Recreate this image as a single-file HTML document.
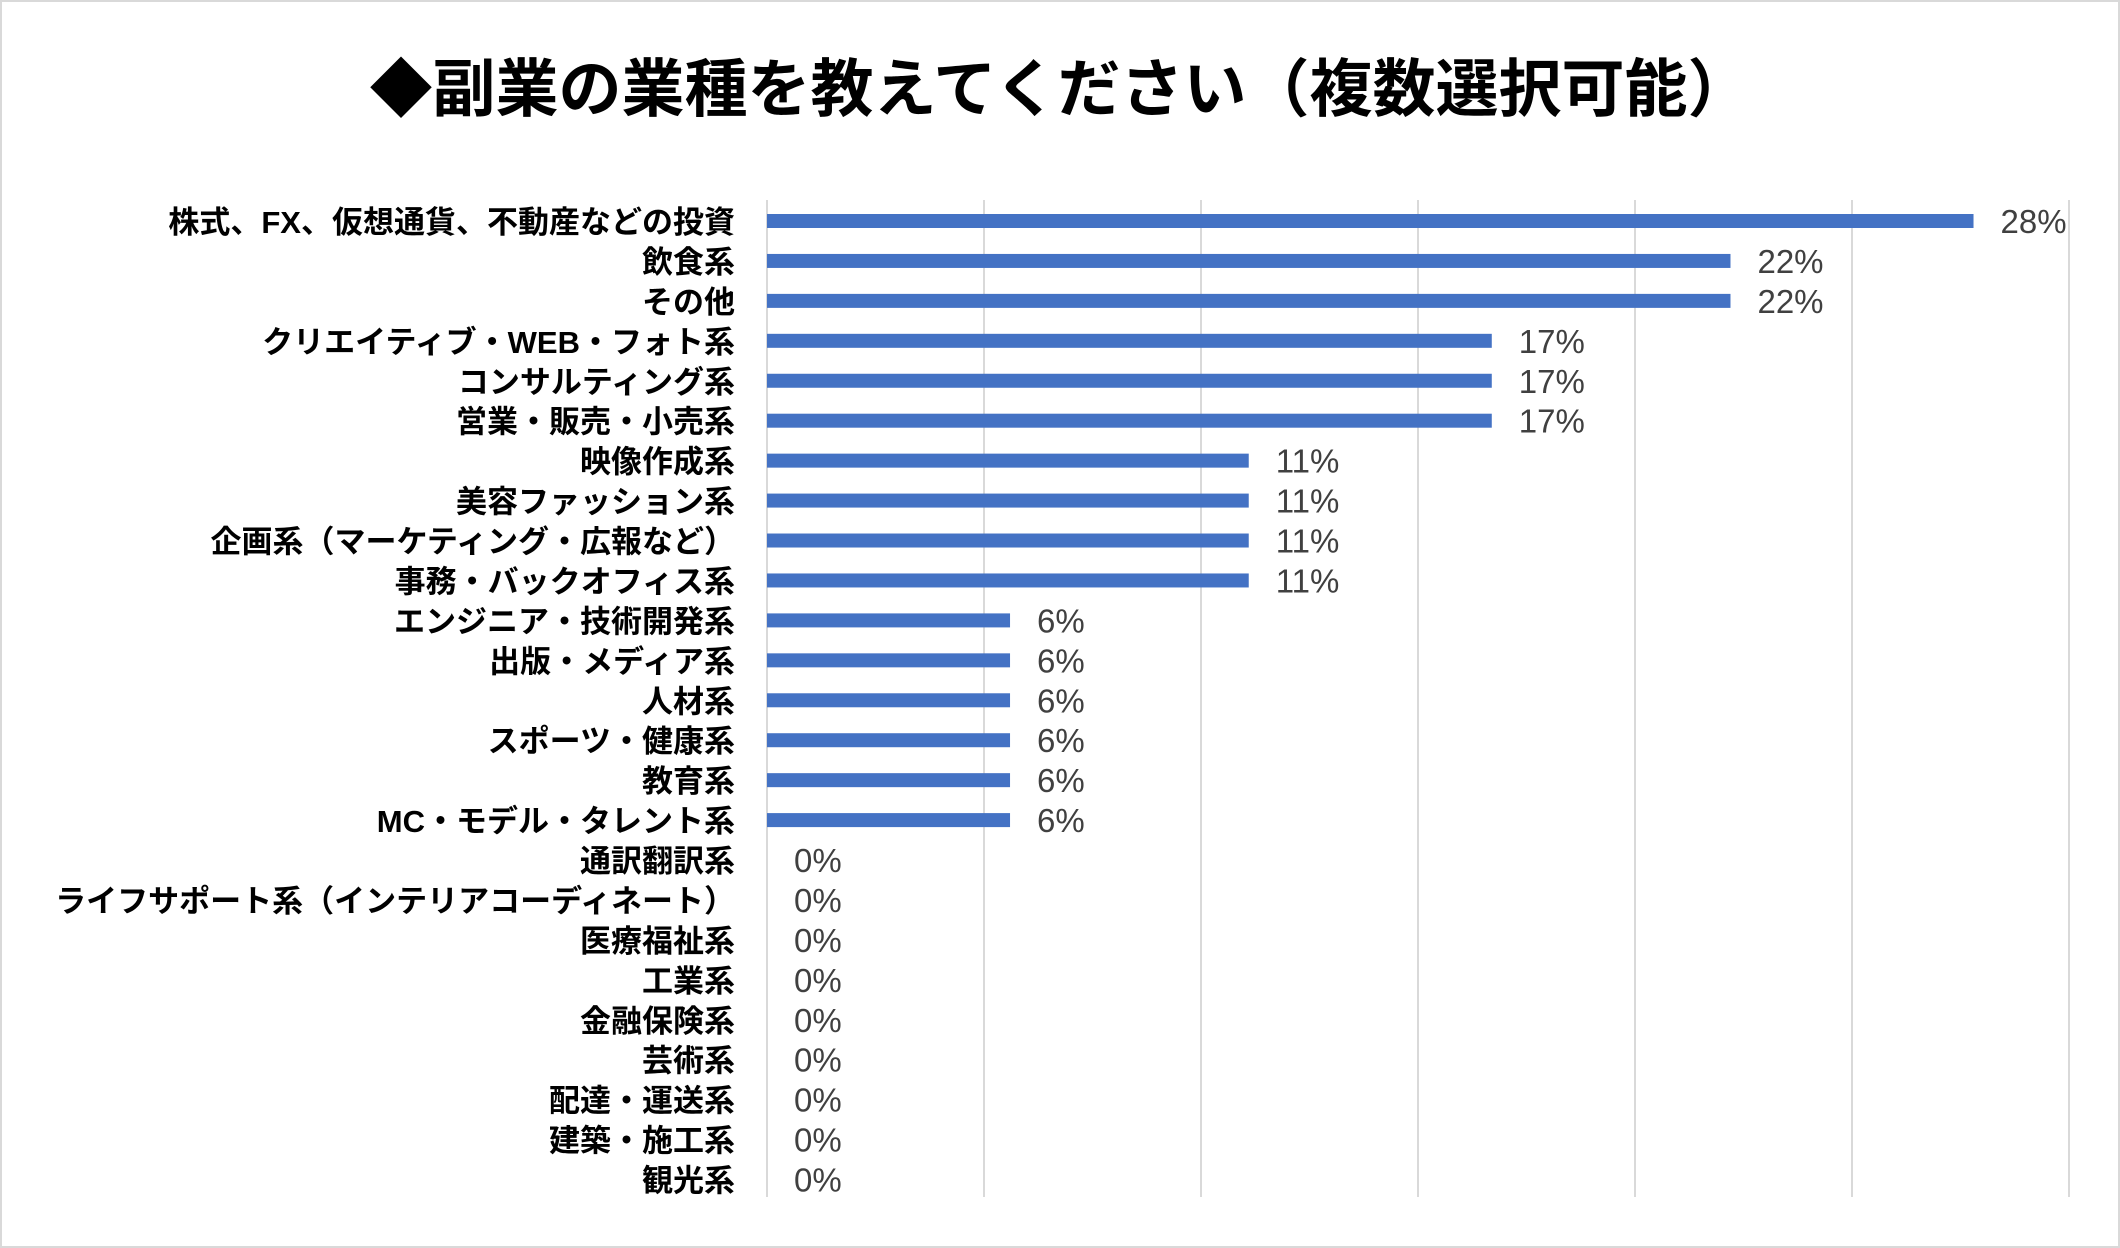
<!DOCTYPE html>
<html><head><meta charset="utf-8">
<style>
html,body{margin:0;padding:0;background:#fff;}
svg{display:block;}
</style></head>
<body>
<svg id="chart" width="2120" height="1248" xmlns="http://www.w3.org/2000/svg">
<rect x="1" y="1" width="2118" height="1246" fill="#fff" stroke="#d9d9d9" stroke-width="2"/>
<text x="1060" y="111" text-anchor="middle" font-family="'Liberation Sans','Noto Sans CJK JP',sans-serif" font-weight="bold" font-size="63" fill="#000">◆副業の業種を教えてください（複数選択可能）</text>
<g id="grid"></g>
<g id="bars"></g>
</svg>
<script>
const categories = ["株式、FX、仮想通貨、不動産などの投資","飲食系","その他","クリエイティブ・WEB・フォト系","コンサルティング系","営業・販売・小売系","映像作成系","美容ファッション系","企画系（マーケティング・広報など）","事務・バックオフィス系","エンジニア・技術開発系","出版・メディア系","人材系","スポーツ・健康系","教育系","MC・モデル・タレント系","通訳翻訳系","ライフサポート系（インテリアコーディネート）","医療福祉系","工業系","金融保険系","芸術系","配達・運送系","建築・施工系","観光系"];
const values = [27.8,22.2,22.2,16.7,16.7,16.7,11.1,11.1,11.1,11.1,5.6,5.6,5.6,5.6,5.6,5.6,0,0,0,0,0,0,0,0,0];
const valueLabels = ["28%","22%","22%","17%","17%","17%","11%","11%","11%","11%","6%","6%","6%","6%","6%","6%","0%","0%","0%","0%","0%","0%","0%","0%","0%"];
const gridTicks = [0,5,10,15,20,25,30];

const NS="http://www.w3.org/2000/svg";
const X0=767, X1=2069, XMAX=30;
const Y0=221, STEP=39.94, BARH=14;
const xs=v=>X0+(v/XMAX)*(X1-X0);
const ys=i=>Y0+i*STEP;
const grid=document.getElementById('grid');
const bars=document.getElementById('bars');
const FONT="'Liberation Sans','Noto Sans CJK JP',sans-serif";

gridTicks.forEach(t=>{
  const l=document.createElementNS(NS,'line');
  l.setAttribute('x1',xs(t));l.setAttribute('x2',xs(t));
  l.setAttribute('y1',200);l.setAttribute('y2',1197);
  l.setAttribute('stroke','#d9d9d9');l.setAttribute('stroke-width','2');
  
  
  grid.appendChild(l);
});

categories.forEach((c,i)=>{
  const y=ys(i);
  const lab=document.createElementNS(NS,'text');
  lab.setAttribute('x',735);lab.setAttribute('y',y+12);
  lab.setAttribute('text-anchor','end');lab.setAttribute('font-family',FONT);
  lab.setAttribute('font-weight','bold');lab.setAttribute('font-size','31');
  lab.setAttribute('fill','#000');
  lab.textContent=c;
  
  
  bars.appendChild(lab);
  const w=xs(values[i])-X0;
  if(w>0){
    const r=document.createElementNS(NS,'rect');
    r.setAttribute('x',X0);r.setAttribute('y',y-BARH/2);
    r.setAttribute('width',w);r.setAttribute('height',BARH);
    r.setAttribute('fill','#4472c4');
    
    
    bars.appendChild(r);
  }
  const v=document.createElementNS(NS,'text');
  v.setAttribute('x',xs(values[i])+27);v.setAttribute('y',y+12);
  v.setAttribute('font-family',FONT);v.setAttribute('font-size','33');
  v.setAttribute('fill','#404040');
  v.textContent=valueLabels[i];
  
  
  bars.appendChild(v);
});
</script>
</body></html>
